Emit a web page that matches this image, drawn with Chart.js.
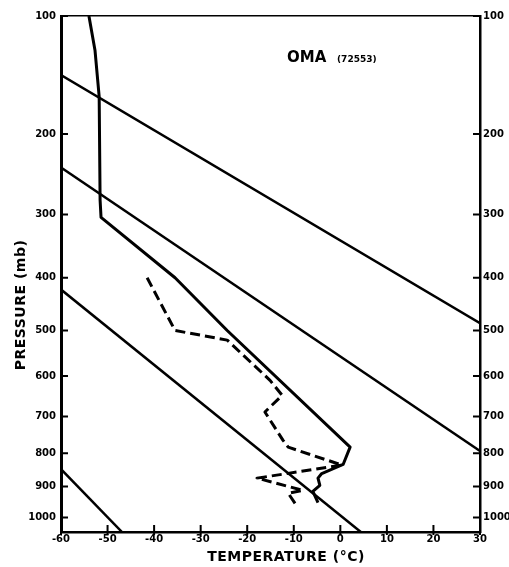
<!DOCTYPE html>
<html>
<head>
  <title>OMA sounding</title>
  <script src="https://cdn.jsdelivr.net/npm/chart.js"></script>
  <style>
    body { margin: 0; background: #fff; }
  </style>
</head>
<body>
  <canvas id="soundingChart" width="509" height="567"></canvas>

  <script>
    // pressure axis is drawn in p^kappa (Stuve diagram)
    const KAPPA = 0.286;
    const pressureTicks = [100, 200, 300, 400, 500, 600, 700, 800, 900, 1000];
    const temperatureTicks = [-60, -50, -40, -30, -20, -10, 0, 10, 20, 30];

    // dry adiabats, end points [temperature C, pressure mb]
    const adiabatA = [[-60, 144], [30, 485]];
    const adiabatB = [[-60, 238], [30, 794]];
    const adiabatC = [[-60, 421], [4.4, 1050]];
    const adiabatD = [[-60, 847], [-46.9, 1050]];

    // temperature sounding
    const tempPressure = [100, 124, 163, 280, 304, 400, 500, 783, 833, 860, 874, 896, 915, 951];
    const tempValues = [-54.0, -52.7, -51.8, -51.6, -51.4, -35.5, -24.3, 2.1, 0.6, -4.0, -4.8, -4.4, -5.9, -4.8];

    // dew point sounding
    const dewPressure = [400, 500, 520, 610, 646, 688, 764, 783, 835, 874, 912, 921, 954];
    const dewValues = [-41.5, -35.5, -24.3, -15.1, -12.5, -16.2, -12.3, -11.2, 0.4, -17.9, -8.0, -11.2, -9.7];

    const toY = p => Math.pow(p, KAPPA);
    const pairs = (t, p) => t.map((v, i) => ({ x: v, y: toY(p[i]) }));
    const segment = pts => pts.map(([t, p]) => ({ x: t, y: toY(p) }));

    const tickFont = { family: 'DejaVu Sans', size: 10, weight: 'bold' };

    const extras = {
      id: 'extras',
      afterDraw(chart) {
        const { ctx, chartArea: a, scales } = chart;
        ctx.save();
        ctx.strokeStyle = '#000';
        ctx.lineWidth = 2;
        ctx.beginPath();
        temperatureTicks.forEach(t => {
          const px = scales.x.getPixelForValue(t);
          ctx.moveTo(px, a.bottom + 3);
          ctx.lineTo(px, a.bottom - 7);
        });
        pressureTicks.forEach(p => {
          const py = scales.y.getPixelForValue(toY(p));
          ctx.moveTo(a.left, py);
          ctx.lineTo(a.left + 7, py);
          ctx.moveTo(a.right, py);
          ctx.lineTo(a.right - 7, py);
        });
        ctx.stroke();

        ctx.fillStyle = '#000';
        ctx.textBaseline = 'middle';
        ctx.textAlign = 'center';
        ctx.font = 'bold 14px "DejaVu Sans"';
        ctx.letterSpacing = '0.5px';
        ctx.fillText('TEMPERATURE (\u00B0C)', a.left + 225, a.bottom + 25);

        ctx.save();
        ctx.translate(a.left - 40, (a.top + a.bottom) / 2 + 31);
        ctx.rotate(-Math.PI / 2);
        ctx.fillText('PRESSURE (mb)', 0, 0);
        ctx.restore();

        ctx.letterSpacing = '0px';
        ctx.textAlign = 'left';
        ctx.textBaseline = 'alphabetic';
        ctx.font = 'bold 15px "DejaVu Sans"';
        ctx.fillText('OMA', a.left + 226, 62);
        ctx.font = 'bold 9px "DejaVu Sans"';
        ctx.fillText('(72553)', a.left + 276, 62);
        ctx.restore();
      }
    };

    const lineStyle = {
      borderColor: '#000',
      pointRadius: 0,
      fill: false,
      tension: 0,
      borderJoinStyle: 'round'
    };

    const pressureAxis = (position, width) => ({
      type: 'linear',
      position: position,
      reverse: true,
      min: toY(100),
      max: toY(1050),
      afterBuildTicks: s => { s.ticks = pressureTicks.map(p => ({ value: toY(p) })); },
      afterFit: s => { s.width = width; },
      ticks: {
        autoSkip: false,
        padding: position === 'left' ? 5 : 3,
        color: '#000',
        font: tickFont,
        callback: (v, i) => String(pressureTicks[i])
      },
      grid: { drawOnChartArea: false, drawTicks: false },
      border: { color: '#000', width: position === 'left' ? 3 : 2.5 }
    });

    new Chart(document.getElementById('soundingChart').getContext('2d'), {
      type: 'line',
      data: {
        datasets: [
          { ...lineStyle, data: segment(adiabatA), borderWidth: 2.5 },
          { ...lineStyle, data: segment(adiabatB), borderWidth: 2.5 },
          { ...lineStyle, data: segment(adiabatC), borderWidth: 2.5 },
          { ...lineStyle, data: segment(adiabatD), borderWidth: 2.5 },
          { ...lineStyle, data: pairs(tempValues, tempPressure), borderWidth: 3 },
          { ...lineStyle, data: pairs(dewValues, dewPressure), borderWidth: 3, borderDash: [10, 5] }
        ]
      },
      options: {
        responsive: false,
        animation: false,
        layout: { padding: 0 },
        plugins: { legend: { display: false }, tooltip: { enabled: false } },
        scales: {
          x: {
            type: 'linear',
            position: 'bottom',
            min: -60,
            max: 30,
            afterBuildTicks: s => { s.ticks = temperatureTicks.map(v => ({ value: v })); },
            afterFit: s => { s.height = 35; },
            ticks: { autoSkip: false, maxRotation: 0, padding: 1, color: '#000', font: tickFont, callback: v => String(v) },
            grid: { drawOnChartArea: false, drawTicks: false },
            border: { color: '#000', width: 2.5 }
          },
          xTop: {
            type: 'linear',
            position: 'top',
            min: -60,
            max: 30,
            afterFit: s => { s.height = 16; },
            ticks: { display: false },
            grid: { drawOnChartArea: false, drawTicks: false },
            border: { color: '#000', width: 1.5 }
          },
          y: pressureAxis('left', 61),
          y2: pressureAxis('right', 29)
        }
      },
      plugins: [extras]
    });
  </script>
</body>
</html>
